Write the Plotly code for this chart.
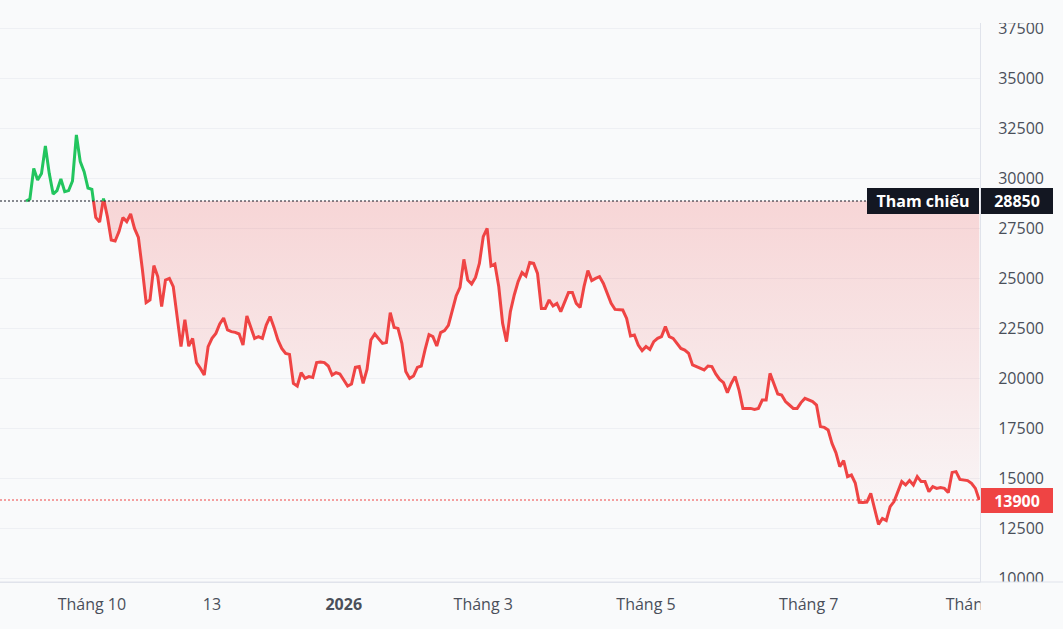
import plotly.graph_objects as go

# ---------------- data ----------------
REF = 28850          # Tham chiếu
LAST = 13900         # last price

days = list(range(247))  # trading-session index
prices = [
    28850, 28950, 30480, 29900, 30230, 31600, 30230, 29200, 29370, 29950,
    29320, 29370, 29850, 32150, 30820, 30320, 29500, 29430, 28030, 27800,
    28970, 28070, 26900, 26850, 27320, 28020, 27820, 28200, 27480, 27030,
    25480, 23770, 23900, 25620, 25070, 23570, 24900, 24980, 24570, 23070,
    21570, 22920, 21590, 21980, 20770, 20480, 20150, 21570, 21980, 22230,
    22700, 23000, 22400, 22320, 22280, 22200, 21650, 23100, 22570, 21980,
    22070, 21980, 22650, 23070, 22530, 21900, 21480, 21230, 21180, 19730,
    19600, 20270, 19980, 20070, 20030, 20770, 20800, 20770, 20600, 20150,
    20270, 20200, 19900, 19600, 19700, 20530, 20570, 19730, 20430, 21900,
    22200, 21980, 21730, 21770, 23270, 22530, 22480, 21730, 20320, 19980,
    20100, 20530, 20600, 21430, 22170, 22070, 21600, 22270, 22370, 22630,
    23400, 24100, 24530, 25930, 24900, 24700, 25030, 25730, 27070, 27480,
    25600, 25700, 24570, 22730, 21820, 23320, 24150, 24820, 25270, 25100,
    25770, 25730, 25230, 23480, 23480, 23900, 23600, 23730, 23320, 23770,
    24270, 24270, 23730, 23530, 24570, 25370, 24870, 24980, 25070, 24730,
    24230, 23730, 23430, 23420, 23400, 22980, 22100, 22150, 21650, 21370,
    21570, 21430, 21820, 21980, 22070, 22570, 22070, 21980, 21700, 21480,
    21400, 21230, 20650, 20570, 20480, 20400, 20600, 20570, 20200, 19930,
    19770, 19270, 19730, 20070, 19400, 18480, 18480, 18480, 18430, 18480,
    18900, 18900, 20230, 19730, 19200, 19150, 18820, 18650, 18480, 18480,
    18770, 18980, 18900, 18820, 18650, 17570, 17530, 17400, 16730, 16270,
    15570, 15870, 15070, 15150, 14750, 13790, 13780, 13800, 14230, 13480,
    12680, 12980, 12870, 13570, 13820, 14320, 14820, 14650, 14870, 14650,
    15070, 14820, 14820, 14320, 14570, 14480, 14520, 14480, 14270, 15280,
    15320, 14930, 14900, 14870, 14730, 14480, 13900,
]

tick_days = [17, 48, 82, 118, 160, 202, 245]
tick_text = ["Tháng 10", "13", "<b>2026</b>", "Tháng 3", "Tháng 5", "Tháng 7", "Tháng 9"]
y_ticks = list(range(10000, 37501, 2500))

# ---------------- style ----------------
BG = "#f9fafb"
RED = "#ef4444"
GREEN = "#22c55e"
DARK = "#131722"
AXIS = "#e0e3eb"
GRID = "#eef0f4"
TXT = "#4a4f5a"
FONT = "Open Sans"

# split line at reference crossings
xx, yy = [], []
for i, (d, p) in enumerate(zip(days, prices)):
    if i > 0:
        p0 = prices[i - 1]
        if (p0 - REF) * (p - REF) < 0:
            t = (REF - p0) / (p - p0)
            xx.append(days[i - 1] + t * (d - days[i - 1]))
            yy.append(REF)
    xx.append(d)
    yy.append(p)

green_y = [y if y >= REF else None for y in yy]
red_y = [y if y <= REF else None for y in yy]
clip_y = [min(y, REF) for y in yy]

fig = go.Figure()
fig.add_trace(go.Scatter(x=xx, y=[REF] * len(xx), mode="lines",
                         line=dict(width=0), hoverinfo="skip", showlegend=False))
fig.add_trace(go.Scatter(
    x=xx, y=clip_y, mode="lines", line=dict(width=0), fill="tonexty",
    fillcolor="rgba(239,68,68,0.12)",
    fillgradient=dict(type="vertical",
                      colorscale=[[0, "rgba(239,68,68,0.02)"], [1, "rgba(239,68,68,0.2)"]]),
    hoverinfo="skip", showlegend=False))
fig.add_trace(go.Scatter(x=xx, y=red_y, mode="lines",
                         line=dict(color=RED, width=3), hoverinfo="skip", showlegend=False))
fig.add_trace(go.Scatter(x=xx, y=green_y, mode="lines",
                         line=dict(color=GREEN, width=3), hoverinfo="skip", showlegend=False))

W, H = 1063, 629
ML, MR, MT, MB = 0, 83, 23, 47
pw, ph = W - ML - MR, H - MT - MB
xr_end = 1 + MR / pw
yt_end = 1 + MT / ph
yb_end = -MB / ph

shapes = [
    dict(type="line", xref="paper", yref="y", x0=0, x1=1, y0=REF, y1=REF,
         line=dict(color=DARK, width=1, dash="2px,2px"), layer="above"),
    dict(type="line", xref="paper", yref="y", x0=0, x1=1, y0=LAST, y1=LAST,
         line=dict(color=RED, width=1, dash="2px,2px"), layer="above"),
    # clip price-scale labels to pane
    dict(type="rect", xref="paper", yref="paper", x0=1.0005, x1=xr_end + 0.01,
         y0=1, y1=yt_end + 0.01, fillcolor=BG, line=dict(width=0), layer="above"),
    dict(type="rect", xref="paper", yref="paper", x0=1.0005, x1=xr_end + 0.01,
         y0=yb_end - 0.01, y1=0, fillcolor=BG, line=dict(width=0), layer="above"),
    dict(type="line", xref="paper", yref="paper", x0=0, x1=xr_end, y0=0, y1=0,
         line=dict(color=AXIS, width=1), layer="above"),
]

annotations = [
    dict(xref="paper", yref="y", x=1, y=REF, xanchor="right", yanchor="middle",
         xshift=-1, text="<b>Tham chiếu</b>", showarrow=False,
         bgcolor=DARK, borderwidth=0, borderpad=0, width=112, height=26,
         font=dict(color="white", size=16, family=FONT)),
    dict(xref="paper", yref="y", x=1, y=REF, xanchor="left", yanchor="middle",
         xshift=1, text="<b>28850</b>", showarrow=False,
         bgcolor=DARK, borderwidth=0, borderpad=0, width=72, height=26,
         font=dict(color="white", size=16, family=FONT)),
    dict(xref="paper", yref="y", x=1, y=LAST, xanchor="left", yanchor="middle",
         xshift=1, text="<b>13900</b>", showarrow=False,
         bgcolor=RED, borderwidth=0, borderpad=0, width=72, height=25,
         font=dict(color="white", size=16, family=FONT)),
]

fig.update_layout(
    width=W, height=H, autosize=False,
    margin=dict(l=ML, r=MR, t=MT, b=MB, pad=0),
    paper_bgcolor=BG, plot_bgcolor=BG,
    hovermode=False, showlegend=False,
    font=dict(family=FONT, size=16, color=TXT),
    shapes=shapes, annotations=annotations,
    xaxis=dict(range=[-6.71, 246.19], tickvals=tick_days, ticktext=tick_text,
               showgrid=False, zeroline=False, showline=True, linecolor=AXIS,
               ticks="", ticklabelstandoff=8, tickfont=dict(size=16, color=TXT)),
    yaxis=dict(side="right", range=[9800, 37750], tickvals=y_ticks, tickformat="d",
               showgrid=True, gridcolor=GRID, gridwidth=1, zeroline=False,
               showline=True, linecolor=AXIS, ticks="", ticklabelstandoff=14,
               tickfont=dict(size=16, color=TXT)),
)

fig.write_html("out.html", config={"displayModeBar": False})
